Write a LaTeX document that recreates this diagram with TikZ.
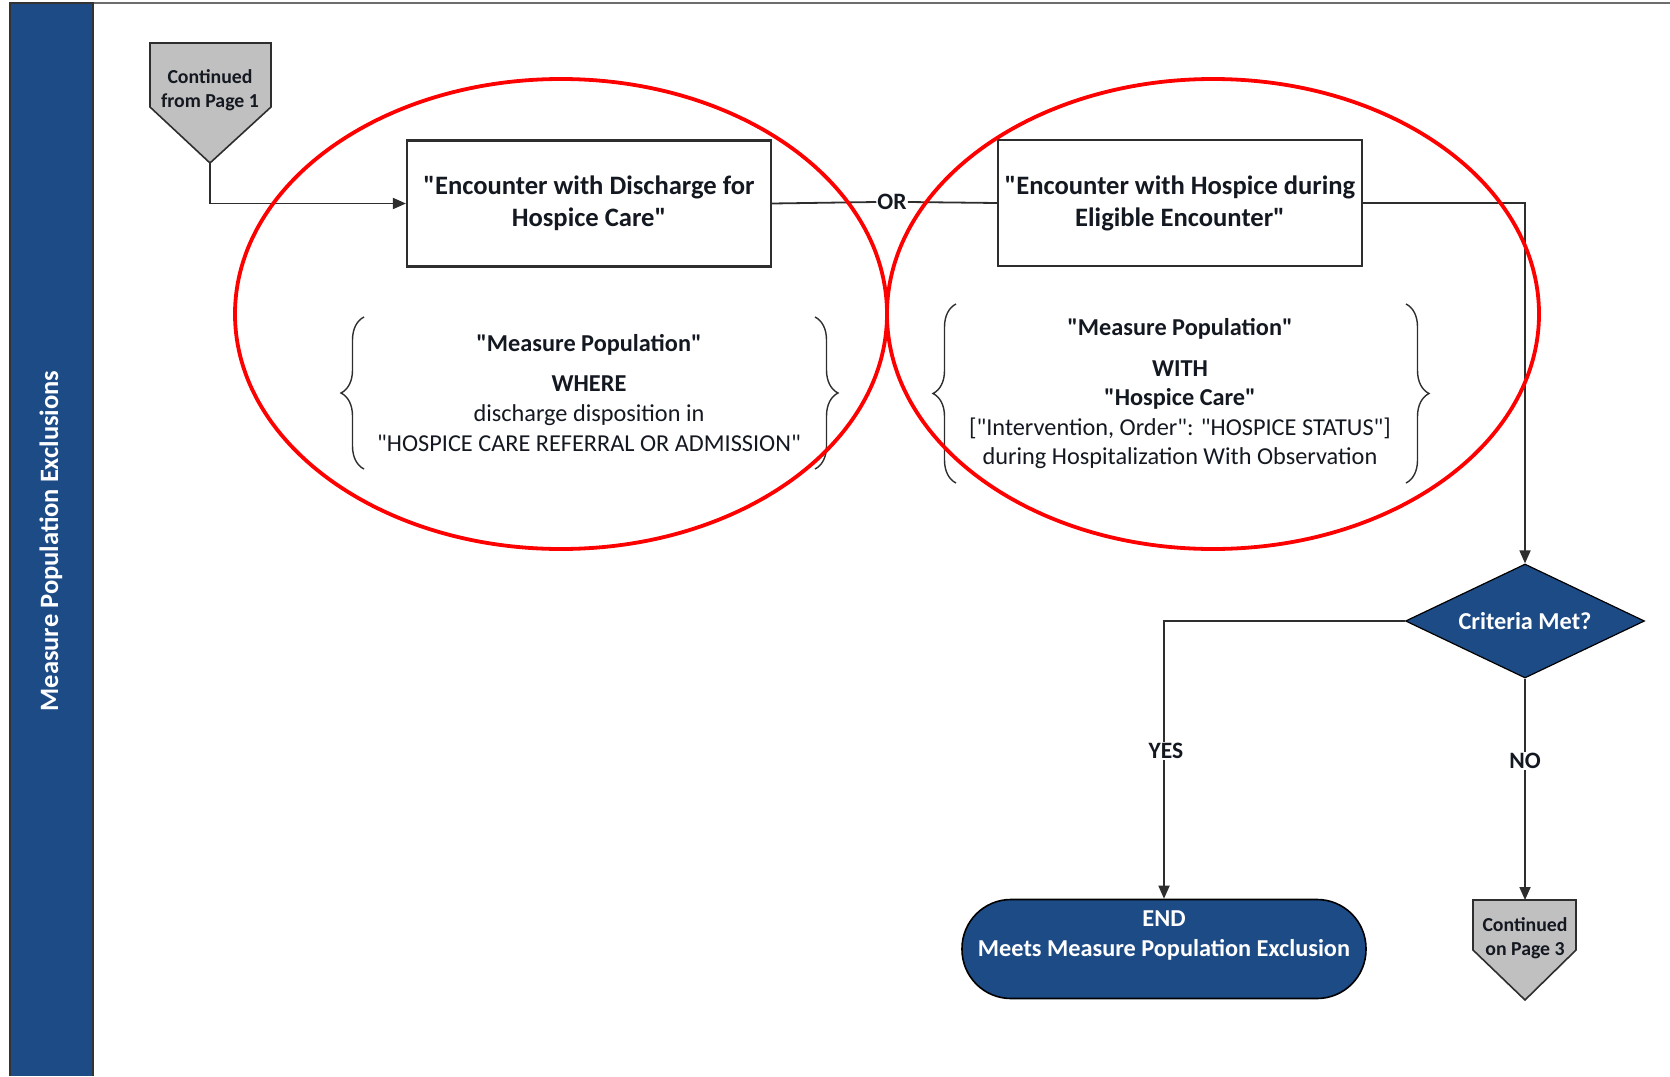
\documentclass[tikz,border=0pt]{standalone}
\usepackage{fontspec}
\setmainfont{Carlito}[Ligatures=TeXOff]
\usetikzlibrary{shapes.geometric,arrows.meta,decorations.pathreplacing}
\definecolor{bandblue}{HTML}{1D4B86}
\definecolor{pagegray}{HTML}{C0C0C0}
\definecolor{linegray}{HTML}{2E2E2E}
\definecolor{inkc}{HTML}{141820}
\tikzset{
  conn/.style={draw=linegray,line width=1.8pt},
  arr/.style={conn,-{Triangle[length=13pt,width=11pt]}},
  procbox/.style={draw=linegray,line width=2.2pt,minimum width=364pt,minimum height=126pt,align=center,
    text=inkc,font=\fontsize{26.6}{32}\selectfont\bfseries,inner sep=0pt},
  offpage/.style={draw=linegray,line width=1.6pt,fill=pagegray},
  offtxt/.style={align=center,text=inkc,font=\fontsize{19.8}{23.5}\selectfont\bfseries},
  brtxt/.style={align=center,text=inkc,font=\fontsize{24.3}{30}\selectfont},
  bracesty/.style={draw=linegray,line width=1.4pt,decorate,decoration={brace,amplitude=23pt}},
  lbl/.style={fill=white,inner sep=1pt,text=inkc,font=\fontsize{23.5}{26}\selectfont\bfseries},
  redring/.style={draw=red,line width=3.8pt},
}
\begin{document}
\begin{tikzpicture}[x=1pt,y=-1pt]
\useasboundingbox (0,0) rectangle (1670,1076);
% swimlane band and top border
\draw[draw=linegray!70,line width=2pt] (93,3) -- (1670,3);
\fill[bandblue] (10,3) rectangle (93,1076);
\draw[draw=black!80,line width=1.6pt] (10,1076) -- (10,3) -- (93,3) -- (93,1076);
\node[rotate=90,text=white,font=\fontsize{26.5}{30}\selectfont\bfseries] (lane) at (51,541) {Measure Population Exclusions};

% start off-page connector
\path[offpage] (150,43) -- (271,43) -- (271,107) -- (210,163) -- (150,107) -- cycle;
\coordinate (startpt) at (210,163);
\node[offtxt] (starttxt) at (210,90) {Continued\\from Page 1};

% process boxes
\node[procbox] (b1) at (589,203.5) {"Encounter with Discharge for\\Hospice Care"};
\node[procbox] (b2) at (1180,203) {"Encounter with Hospice during\\Eligible Encounter"};
\node[lbl] (or) at (892,202) {OR};

% brace groups
\draw[bracesty] (364,469) -- (364,317);
\draw[bracesty] (815,317) -- (815,469);
\node[brtxt] (c1) at (589,393) {\textbf{"Measure Population"}\\[10pt]\textbf{WHERE}\\discharge disposition in\\"HOSPICE CARE REFERRAL OR ADMISSION"};
\draw[bracesty] (956,483) -- (956,304);
\draw[bracesty] (1406,304) -- (1406,483);
\node[brtxt,font=\fontsize{24.3}{29.5}\selectfont] (c2) at (1180,394) {\textbf{"Measure Population"}\\[11pt]\textbf{WITH}\\\textbf{"Hospice Care"}\\{[}"Intervention, Order": "HOSPICE STATUS"{]}\\during Hospitalization With Observation};

% decision
\node[diamond,aspect=2.1,draw=black,line width=1.2pt,fill=bandblue,minimum width=239pt,minimum height=114pt,inner sep=0pt,
  text=white,font=\fontsize{24.3}{28}\selectfont\bfseries] (dia) at (1525,621) {Criteria Met?};

% terminator
\node[draw=black,line width=1.6pt,fill=bandblue,rounded corners=49pt,minimum width=404pt,minimum height=99pt] (term) at (1164,949) {};
\node[align=center,text=white,font=\fontsize{24.3}{30}\selectfont\bfseries] (termtxt) at (1164,936) {END\\Meets Measure Population Exclusion};

% end off-page connector
\path[offpage] (1473,900) -- (1576,900) -- (1576,950) -- (1525,1000) -- (1473,950) -- cycle;
\coordinate (endtop) at (1525,900);
\node[offtxt] (endtxt) at (1525,938) {Continued\\on Page 3};

% connectors
\draw[arr] (startpt) |- (b1.west);
\draw[conn] (b1.east) -- (or.west);
\draw[conn] (or.east) -- (b2.west);
\draw[arr] (b2.east) -| (dia.north);
\draw[arr] (dia.west) -| (term.north);
\draw[arr] (dia.south) -- (endtop);
\node[lbl] (yes) at (1166,751) {YES};
\node[lbl] (no) at (1525,761) {NO};

% red highlight ellipses
\draw[redring] (561,314) ellipse [x radius=326, y radius=235];
\draw[redring] (1213,314) ellipse [x radius=326, y radius=235];
\end{tikzpicture}
\end{document}
